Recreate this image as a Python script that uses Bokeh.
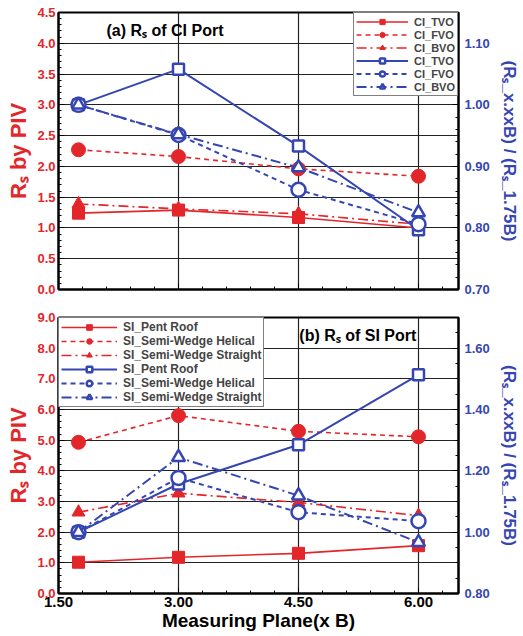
from bokeh.plotting import figure
from bokeh.models import (Range1d, LinearAxis, SingleIntervalTicker, NumeralTickFormatter,
                          Legend, LegendItem, Label, CustomJSTickFormatter)
from bokeh.layouts import column
from bokeh.embed import file_html
from bokeh.resources import INLINE

# ---------------- data ----------------
x_planes = [1.75, 3.00, 4.50, 6.00]

# (a) CI port: left axis = Rs by PIV, right axis = normalised Rs
ci_tvo_rs = [1.24, 1.29, 1.17, 1.00]
ci_fvo_rs = [2.27, 2.16, 1.96, 1.84]
ci_bvo_rs = [1.39, 1.31, 1.23, 1.06]
ci_tvo_norm = [1.000, 1.058, 0.933, 0.797]
ci_fvo_norm = [1.000, 0.951, 0.862, 0.806]
ci_bvo_norm = [1.000, 0.952, 0.898, 0.825]
ci_names = ["CI_TVO", "CI_FVO", "CI_BVO"]

# (b) SI port
si_pent_rs = [1.02, 1.18, 1.31, 1.56]
si_helical_rs = [4.93, 5.80, 5.29, 5.11]
si_straight_rs = [2.65, 3.27, 2.97, 2.54]
si_pent_norm = [1.000, 1.157, 1.285, 1.513]
si_helical_norm = [1.000, 1.177, 1.065, 1.036]
si_straight_norm = [1.000, 1.244, 1.119, 0.967]
si_names = ["SI_Pent Roof", "SI_Semi-Wedge Helical", "SI_Semi-Wedge Straight"]

RED = "#e3262a"
BLUE = "#3546b2"
FONT = "Liberation Sans"
DASHES = ["solid", "5 4", "10 4 2 4"]
MARKERS = ["square", "circle", "triangle"]
MSIZE_F = [12, 14, 13]
MSIZE_O = [11, 14, 13]


def style_axis(ax, color, size="13px"):
    ax.major_label_text_color = color
    ax.major_label_text_font = FONT
    ax.major_label_text_font_style = "bold"
    ax.major_label_text_font_size = size
    ax.major_label_standoff = 3
    ax.axis_label_text_color = color
    ax.axis_label_text_font = FONT
    ax.axis_label_text_font_style = "bold"
    ax.axis_line_color = "black"
    ax.axis_line_width = 2
    ax.major_tick_in = 6
    ax.major_tick_out = 0
    ax.minor_tick_in = 3
    ax.minor_tick_out = 0
    ax.major_tick_line_color = "black"
    ax.minor_tick_line_color = "black"


def make_panel(frame_h, border_top, border_bottom, ymax, yint, rmin, rmax, rint, rminor,
               show_x_labels):
    p = figure(frame_width=400, frame_height=frame_h, x_range=Range1d(1.5, 6.5),
               y_range=Range1d(0, ymax), output_backend="svg", toolbar_location=None,
               min_border_left=58, min_border_right=50, min_border_top=border_top,
               min_border_bottom=border_bottom)
    p.extra_y_ranges = {"norm": Range1d(rmin, rmax)}
    p.outline_line_color = "black"
    p.outline_line_width = 2
    p.background_fill_color = "white"

    p.xaxis.ticker = SingleIntervalTicker(interval=1.5, num_minor_ticks=5)
    style_axis(p.xaxis[0], "black", "15px")
    if show_x_labels:
        p.xaxis.formatter = NumeralTickFormatter(format="0.00")
    else:
        p.xaxis.formatter = CustomJSTickFormatter(code="return ''")
        p.xaxis.major_label_standoff = 0

    p.yaxis.ticker = SingleIntervalTicker(interval=yint, num_minor_ticks=5)
    p.yaxis.formatter = NumeralTickFormatter(format="0.0")
    style_axis(p.yaxis[0], RED)
    p.yaxis.axis_label = "Rₛ by PIV"
    p.yaxis.axis_label_text_font_size = "22px"
    p.yaxis.axis_label_standoff = 3

    rax = LinearAxis(y_range_name="norm",
                     ticker=SingleIntervalTicker(interval=rint, num_minor_ticks=rminor),
                     formatter=NumeralTickFormatter(format="0.00"))
    style_axis(rax, BLUE)
    rax.major_label_standoff = 6
    rax.axis_label = "(Rₛ_x.xxB) / (Rₛ_1.75B)"
    rax.axis_label_text_font_size = "17px"
    rax.axis_label_standoff = 7
    p.add_layout(rax, "right")

    p.xgrid.ticker = SingleIntervalTicker(interval=1.5)
    p.ygrid.ticker = SingleIntervalTicker(interval=yint)
    for g in (p.xgrid[0], p.ygrid[0]):
        g.grid_line_color = "#222222"
        g.grid_line_width = 1.2
    return p


def add_series(p, red_sets, blue_sets, names, legend_loc, font_size, glyph_w, glyph_h):
    items = []
    for i, ys in enumerate(red_sets):
        ln = p.line(x_planes, ys, line_color=RED, line_width=1.6, line_dash=DASHES[i])
        mk = p.scatter(x_planes, ys, marker=MARKERS[i], size=MSIZE_F[i],
                       fill_color=RED, line_color=RED)
        items.append(LegendItem(label=names[i], renderers=[ln, mk]))
    for i, ys in enumerate(blue_sets):
        ln = p.line(x_planes, ys, line_color=BLUE, line_width=2, line_dash=DASHES[i],
                    y_range_name="norm")
        mk = p.scatter(x_planes, ys, marker=MARKERS[i], size=MSIZE_O[i],
                       fill_color="white", line_color=BLUE, line_width=2.5,
                       y_range_name="norm")
        items.append(LegendItem(label=names[i], renderers=[ln, mk]))
    leg = Legend(items=items, location=legend_loc, margin=0, padding=2, spacing=0,
                 glyph_width=glyph_w, glyph_height=glyph_h, label_standoff=6,
                 label_text_font=FONT, label_text_font_style="bold",
                 label_text_font_size=font_size, label_height=glyph_h,
                 label_text_line_height=1.0,
                 border_line_color="black", border_line_width=1,
                 background_fill_color="white", background_fill_alpha=1)
    p.add_layout(leg, "center")


# ---------- top panel (a) ----------
p1 = make_panel(277, 12, 12, 4.5, 0.5, 0.70, 1.15, 0.1, 5, False)
add_series(p1, [ci_tvo_rs, ci_fvo_rs, ci_bvo_rs],
           [ci_tvo_norm, ci_fvo_norm, ci_bvo_norm], ci_names, "top_right", "11px", 52, 13)
p1.add_layout(Label(x=2.1, y=4.21, text="(a) Rₛ of CI Port", text_font=FONT,
                    text_font_style="bold", text_font_size="16px",
                    text_baseline="middle", text_color="black"))

# ---------- bottom panel (b) ----------
p2 = make_panel(276, 16, 40, 9.0, 1.0, 0.80, 1.70, 0.2, 4, True)
add_series(p2, [si_pent_rs, si_helical_rs, si_straight_rs],
           [si_pent_norm, si_helical_norm, si_straight_norm], si_names, "top_left", "12px", 56, 14)
p2.add_layout(Label(x=4.51, y=8.41, text="(b) Rₛ of SI Port", text_font=FONT,
                    text_font_style="bold", text_font_size="16px",
                    text_baseline="middle", text_color="black"))
p2.xaxis.axis_label = "Measuring Plane(x B)"
p2.xaxis.axis_label_text_font_size = "19px"
p2.xaxis.axis_label_standoff = 0

layout = column(p1, p2, spacing=0)
open("out.html", "w").write(file_html(layout, INLINE))
